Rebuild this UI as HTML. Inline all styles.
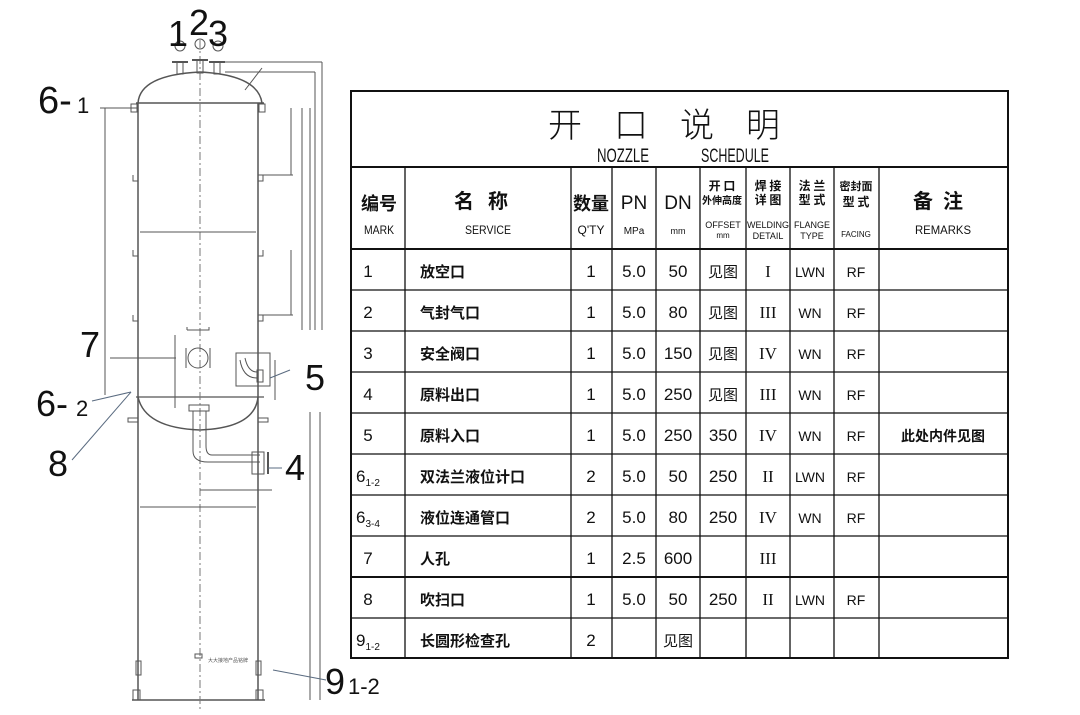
<!DOCTYPE html>
<html><head><meta charset="utf-8">
<style>
body{margin:0;background:#fff;width:1080px;height:715px;overflow:hidden;position:relative;font-family:"Liberation Sans","Noto Sans CJK SC",sans-serif}
svg{position:absolute;left:0;top:0}
.t{font-family:"Liberation Sans Narrow","Liberation Sans","Noto Sans CJK SC",sans-serif}
</style></head><body>
<svg width="1080" height="715" viewBox="0 0 1080 715" xmlns="http://www.w3.org/2000/svg">
<g stroke="#555" fill="none" stroke-width="1">
<!-- top head -->
<path d="M138 103 Q140 75 200 72 Q258 75 262 103" stroke-width="1.5"/>
<line x1="136" y1="103" x2="264" y2="103" stroke-width="1.5"/>
<!-- shell -->
<line x1="138" y1="103" x2="138" y2="700" stroke-width="1.5"/>
<line x1="258" y1="103" x2="258" y2="700" stroke-width="1.5"/>
<!-- bottom head -->
<line x1="136" y1="397" x2="264" y2="397" stroke-width="1.3"/>
<path d="M138 397 Q145 428 200 430 Q255 428 258 397" stroke-width="1.5"/>
<line x1="132" y1="700" x2="265" y2="700" stroke-width="1.5"/>
<!-- centerline -->
<line x1="200" y1="40" x2="200" y2="712" stroke-dasharray="8 3 2 3" stroke="#777"/>
<!-- top nozzles -->
<rect x="177" y="62" width="6" height="12"/><line x1="172" y1="62" x2="188" y2="62" stroke-width="2"/>
<rect x="197" y="60" width="6" height="13"/><line x1="192" y1="60" x2="208" y2="60" stroke-width="2"/>
<rect x="214" y="62" width="6" height="12"/><line x1="209" y1="62" x2="225" y2="62" stroke-width="2"/>
<circle cx="200" cy="44" r="5"/><circle cx="180" cy="46" r="5"/><circle cx="218" cy="46" r="5"/>
<line x1="245" y1="90" x2="262" y2="68"/>
<!-- side nozzles 6-1 -->
<rect x="131" y="104" width="6" height="8"/><rect x="259" y="104" width="6" height="8"/>
<!-- clips -->
<path d="M133 175 v6 h5 M133 250 v6 h5 M133 315 v6 h5 M263 175 v6 h-5 M263 250 v6 h-5 M263 315 v6 h-5"/>
<!-- dimension lines -->
<line x1="105" y1="108" x2="105" y2="395"/><line x1="100" y1="108" x2="138" y2="108"/>
<line x1="140" y1="232" x2="256" y2="232"/>
<line x1="140" y1="507" x2="256" y2="507"/>
<line x1="200" y1="490" x2="272" y2="490"/>
<line x1="225" y1="62" x2="322" y2="62"/><line x1="225" y1="72" x2="315" y2="72"/>
<line x1="322" y1="62" x2="322" y2="330"/><line x1="315" y1="72" x2="315" y2="330"/>
<line x1="310" y1="108" x2="310" y2="330"/><line x1="302" y1="108" x2="302" y2="330"/>
<line x1="291" y1="108" x2="291" y2="175"/><line x1="291" y1="250" x2="291" y2="315"/>
<line x1="258" y1="175" x2="293" y2="175"/><line x1="258" y1="315" x2="293" y2="315"/>
<line x1="310" y1="412" x2="310" y2="700"/><line x1="320" y1="412" x2="320" y2="700"/>
<line x1="275" y1="360" x2="275" y2="400"/>
<!-- manway -->
<circle cx="198" cy="358" r="10"/>
<line x1="186" y1="348" x2="186" y2="368"/><line x1="210" y1="348" x2="210" y2="368"/>
<path d="M187 330 v-3 M187 330 h22 v-3"/>
<line x1="175" y1="335" x2="175" y2="408"/>
<line x1="110" y1="358" x2="176" y2="358"/>
<!-- nozzle 5 -->
<rect x="236" y="353" width="34" height="33"/>
<path d="M240 360 Q243 378 257 378 M245 358 Q248 372 257 372"/>
<rect x="257" y="370" width="6" height="12"/>
<!-- outlet 4 -->
<rect x="189" y="405" width="20" height="6"/>
<path d="M193 411 v40 Q193 462 208 462 h52 M206 411 v35 Q206 455 212 455 h48"/>
<rect x="252" y="452" width="12" height="22"/>
<line x1="268" y1="452" x2="268" y2="474" stroke-width="2"/>
<!-- lugs -->
<rect x="128" y="418" width="10" height="4"/><rect x="258" y="418" width="10" height="4"/>
<!-- legs bottom -->
<rect x="136" y="661" width="5" height="14"/><rect x="256" y="661" width="5" height="14"/>
<rect x="133" y="690" width="7" height="10"/><rect x="256" y="690" width="7" height="10"/>
<rect x="195" y="654" width="7" height="4"/>
</g>
<text x="208" y="662" font-size="5" fill="#555">大大接地产品铭牌</text>
<!-- leader lines -->
<g stroke="#5a6b80" stroke-width="1">
<line x1="92" y1="401" x2="131" y2="392"/>
<line x1="72" y1="460" x2="131" y2="392"/>
<line x1="270" y1="378" x2="290" y2="370"/>
<line x1="268" y1="468" x2="282" y2="468"/>
<line x1="273" y1="670" x2="326" y2="680"/>
</g>
<g font-family="Liberation Sans, sans-serif" fill="#111">
<text x="168" y="46" font-size="36">1</text>
<text x="189" y="35" font-size="36">2</text>
<text x="208" y="46" font-size="36">3</text>
<text x="38" y="113" font-size="38">6-</text><text x="77" y="113" font-size="22">1</text>
<text x="80" y="357" font-size="36">7</text>
<text x="36" y="416" font-size="36">6-</text><text x="76" y="416" font-size="22">2</text>
<text x="48" y="476" font-size="36">8</text>
<text x="305" y="390" font-size="36">5</text>
<text x="285" y="480" font-size="36">4</text>
<text x="325" y="694" font-size="36">9</text><text x="348" y="694" font-size="22">1-2</text>
</g>
<!-- table -->
<g stroke="#111" fill="none">
<rect x="351" y="91" width="657" height="567" stroke-width="2"/>
<line x1="351" y1="167" x2="1008" y2="167" stroke-width="2"/>
<line x1="351" y1="249" x2="1008" y2="249" stroke-width="2"/>
<g stroke-width="1.3">
<line x1="351" y1="290" x2="1008" y2="290"/><line x1="351" y1="331" x2="1008" y2="331"/>
<line x1="351" y1="372" x2="1008" y2="372"/><line x1="351" y1="413" x2="1008" y2="413"/>
<line x1="351" y1="454" x2="1008" y2="454"/><line x1="351" y1="495" x2="1008" y2="495"/>
<line x1="351" y1="536" x2="1008" y2="536"/><line x1="351" y1="577" x2="1008" y2="577" stroke-width="2"/>
<line x1="351" y1="618" x2="1008" y2="618"/>
<line x1="405" y1="167" x2="405" y2="658"/><line x1="571" y1="167" x2="571" y2="658"/>
<line x1="612" y1="167" x2="612" y2="658"/><line x1="656" y1="167" x2="656" y2="658"/>
<line x1="700" y1="167" x2="700" y2="658"/><line x1="746" y1="167" x2="746" y2="658"/>
<line x1="790" y1="167" x2="790" y2="658"/><line x1="834" y1="167" x2="834" y2="658"/>
<line x1="879" y1="167" x2="879" y2="658"/>
</g></g>
<g class="t" fill="#111" text-anchor="middle">
<text x="680" y="137" font-size="34" letter-spacing="32" font-family="Noto Sans CJK SC, sans-serif" font-weight="300">开口说明</text>
<text x="623" y="162" font-size="19" textLength="52" lengthAdjust="spacingAndGlyphs">NOZZLE</text>
<text x="735" y="162" font-size="19" textLength="68" lengthAdjust="spacingAndGlyphs">SCHEDULE</text>
<g font-family="Noto Sans CJK SC, sans-serif" font-weight="bold">
<text x="379" y="210" font-size="18">编号</text>
<text x="488" y="208" font-size="20" letter-spacing="14">名称</text>
<text x="591" y="210" font-size="18">数量</text>
<text x="722" y="190" font-size="12">开 口</text><text x="722" y="204" font-size="10">外伸高度</text>
<text x="768" y="190" font-size="12">焊 接</text><text x="768" y="204" font-size="12">详 图</text>
<text x="812" y="190" font-size="12">法 兰</text><text x="812" y="204" font-size="12">型 式</text>
<text x="856" y="190" font-size="11">密封面</text><text x="856" y="206" font-size="12">型 式</text>
<text x="943" y="208" font-size="20" letter-spacing="10">备注</text>
</g>
<text x="634" y="209" font-size="19">PN</text>
<text x="678" y="209" font-size="19">DN</text>
<g font-size="12">
<text x="379" y="234" textLength="30" lengthAdjust="spacingAndGlyphs">MARK</text>
<text x="488" y="234" textLength="46" lengthAdjust="spacingAndGlyphs">SERVICE</text>
<text x="591" y="234">Q'TY</text>
<text x="634" y="234" font-size="10">MPa</text>
<text x="678" y="234" font-size="9">mm</text>
<text x="723" y="228" font-size="9">OFFSET</text><text x="723" y="238" font-size="8">mm</text>
<text x="768" y="228" font-size="9">WELDING</text><text x="768" y="239" font-size="9">DETAIL</text>
<text x="812" y="228" font-size="9">FLANGE</text><text x="812" y="239" font-size="9">TYPE</text>
<text x="856" y="237" font-size="8">FACING</text>
<text x="943" y="234" textLength="56" lengthAdjust="spacingAndGlyphs">REMARKS</text>
</g>
</g>
<g class="t" fill="#111" font-size="17" text-anchor="middle">
<g transform="translate(0,277)"><text x="368">1</text><text x="591">1</text><text x="634">5.0</text><text x="678">50</text><text x="723" font-size="15" font-family="Noto Sans CJK SC">见图</text><text x="768" font-family="Liberation Serif">I</text><text x="810" font-size="14">LWN</text><text x="856" font-size="14">RF</text></g>
<g transform="translate(0,318)"><text x="368">2</text><text x="591">1</text><text x="634">5.0</text><text x="678">80</text><text x="723" font-size="15" font-family="Noto Sans CJK SC">见图</text><text x="768" font-family="Liberation Serif">III</text><text x="810" font-size="14">WN</text><text x="856" font-size="14">RF</text></g>
<g transform="translate(0,359)"><text x="368">3</text><text x="591">1</text><text x="634">5.0</text><text x="678">150</text><text x="723" font-size="15" font-family="Noto Sans CJK SC">见图</text><text x="768" font-family="Liberation Serif">IV</text><text x="810" font-size="14">WN</text><text x="856" font-size="14">RF</text></g>
<g transform="translate(0,400)"><text x="368">4</text><text x="591">1</text><text x="634">5.0</text><text x="678">250</text><text x="723" font-size="15" font-family="Noto Sans CJK SC">见图</text><text x="768" font-family="Liberation Serif">III</text><text x="810" font-size="14">WN</text><text x="856" font-size="14">RF</text></g>
<g transform="translate(0,441)"><text x="368">5</text><text x="591">1</text><text x="634">5.0</text><text x="678">250</text><text x="723">350</text><text x="768" font-family="Liberation Serif">IV</text><text x="810" font-size="14">WN</text><text x="856" font-size="14">RF</text><text x="943" font-size="14" font-family="Noto Sans CJK SC" font-weight="bold">此处内件见图</text></g>
<g transform="translate(0,482)"><text x="368">6<tspan font-size="10" dy="4">1-2</tspan></text><text x="591">2</text><text x="634">5.0</text><text x="678">50</text><text x="723">250</text><text x="768" font-family="Liberation Serif">II</text><text x="810" font-size="14">LWN</text><text x="856" font-size="14">RF</text></g>
<g transform="translate(0,523)"><text x="368">6<tspan font-size="10" dy="4">3-4</tspan></text><text x="591">2</text><text x="634">5.0</text><text x="678">80</text><text x="723">250</text><text x="768" font-family="Liberation Serif">IV</text><text x="810" font-size="14">WN</text><text x="856" font-size="14">RF</text></g>
<g transform="translate(0,564)"><text x="368">7</text><text x="591">1</text><text x="634">2.5</text><text x="678">600</text><text x="768" font-family="Liberation Serif">III</text></g>
<g transform="translate(0,605)"><text x="368">8</text><text x="591">1</text><text x="634">5.0</text><text x="678">50</text><text x="723">250</text><text x="768" font-family="Liberation Serif">II</text><text x="810" font-size="14">LWN</text><text x="856" font-size="14">RF</text></g>
<g transform="translate(0,646)"><text x="368">9<tspan font-size="10" dy="4">1-2</tspan></text><text x="591">2</text><text x="678" font-size="15" font-family="Noto Sans CJK SC">见图</text></g>
</g>
<g fill="#111" font-size="15" font-family="Noto Sans CJK SC, sans-serif" font-weight="bold">
<text x="420" y="277">放空口</text><text x="420" y="318">气封气口</text><text x="420" y="359">安全阀口</text>
<text x="420" y="400">原料出口</text><text x="420" y="441">原料入口</text><text x="420" y="482">双法兰液位计口</text>
<text x="420" y="523">液位连通管口</text><text x="420" y="564">人孔</text><text x="420" y="605">吹扫口</text>
<text x="420" y="646">长圆形检查孔</text>
</g>
</svg>
</body></html>
